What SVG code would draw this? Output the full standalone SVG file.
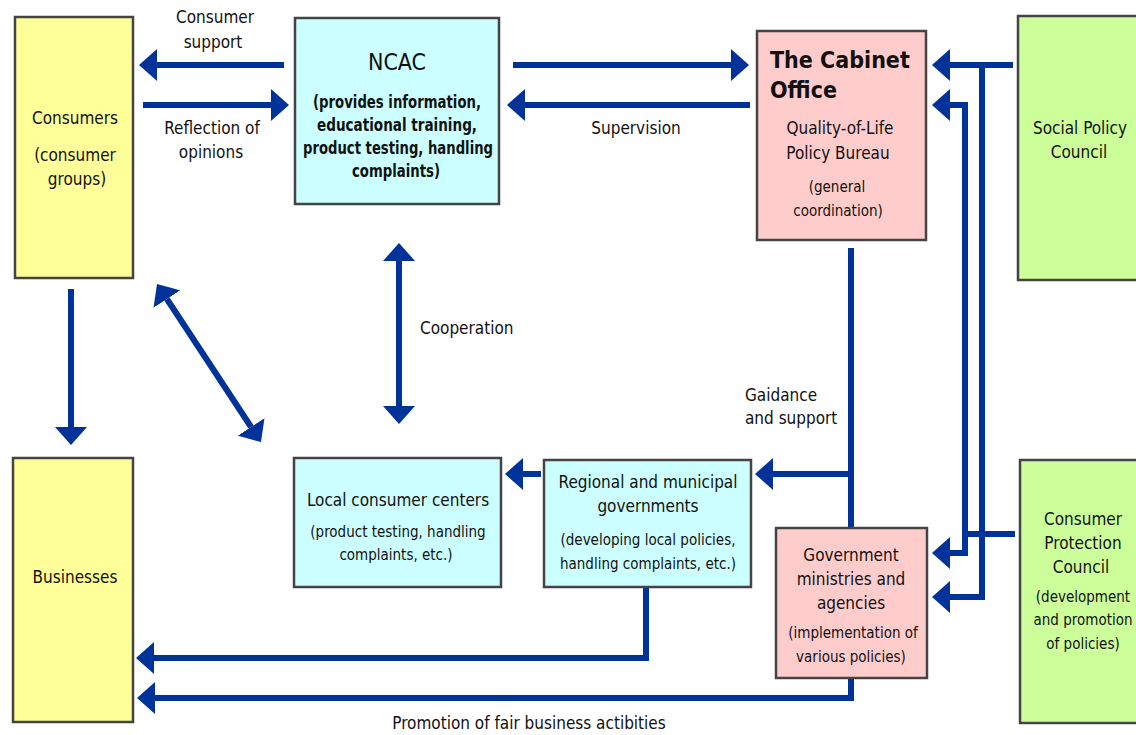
<svg xmlns="http://www.w3.org/2000/svg" width="1136" height="735" viewBox="0 0 1136 735">
<defs>
<style>
.box{stroke:#444;stroke-width:2.5}
.y{fill:#ffff99}.c{fill:#ccffff}.p{fill:#ffcccc}.g{fill:#ccff99}
.t{font-family:"Liberation Sans Narrow","DejaVu Sans Condensed","Liberation Sans",sans-serif;font-size:17px;fill:#111;text-anchor:middle}
.s{font-size:15px}
.b{font-weight:bold}
.l{text-anchor:start}
.ln{fill:none;stroke:#003399;stroke-width:6}
.a{marker-end:url(#ah)}
.aa{marker-end:url(#ah);marker-start:url(#ah)}
</style>
<marker id="ah" viewBox="0 0 18 32" markerWidth="18" markerHeight="32" refX="0" refY="16" orient="auto-start-reverse" markerUnits="userSpaceOnUse">
<path d="M0,0 L18,16 L0,32 Z" fill="#003399"/>
</marker>
</defs>
<rect width="1136" height="735" fill="#fff"/>

<g id="connectors">
<path class="ln a" d="M284,65 H157"/>
<path class="ln a" d="M143,105 H271"/>
<path class="ln a" d="M513,65 H731"/>
<path class="ln a" d="M750,105 H525"/>
<path class="ln a" d="M1013,65 H950"/>
<path class="ln a" d="M982,65 V597 H950"/>
<path class="ln aa" d="M950,105 H965 V553 H950"/>
<path class="ln" d="M1015,534 H965"/>
<path class="ln" d="M851,248 V528"/>
<path class="ln a" d="M851,474 H773"/>
<path class="ln a" d="M541,474 H523"/>
<path class="ln a" d="M646,587 V658 H154"/>
<path class="ln a" d="M851,678 V698 H155"/>
<path class="ln a" d="M71,289 V427"/>
<path class="ln aa" d="M399,261 V406"/>
<path class="ln aa" d="M166.9,299 L251.1,427"/>
<text class="t" x="215" y="23">Consumer</text>
<text class="t" x="213" y="48">support</text>
<text class="t" x="212" y="134">Reflection of</text>
<text class="t" x="211" y="158">opinions</text>
<text class="t" x="636" y="134">Supervision</text>
<text class="t l" x="420" y="334">Cooperation</text>
<text class="t l" x="745" y="401">Gaidance</text>
<text class="t l" x="745" y="424">and support</text>
<text class="t" x="529" y="729">Promotion of fair business actibities</text>
</g>

<g id="consumers">
<rect class="box y" x="15" y="17" width="118" height="261"/>
<text class="t" x="75" y="124">Consumers</text>
<text class="t" x="75" y="161">(consumer</text>
<text class="t" x="77" y="185">groups)</text>
</g>

<g id="ncac">
<rect class="box c" x="295" y="18" width="204" height="186"/>
<text class="t" x="397" y="70" style="font-size:23px">NCAC</text>
<text class="t b" x="397" y="108" textLength="168" lengthAdjust="spacingAndGlyphs">(provides information,</text>
<text class="t b" x="397" y="131" textLength="160" lengthAdjust="spacingAndGlyphs">educational training,</text>
<text class="t b" x="398" y="154" textLength="190" lengthAdjust="spacingAndGlyphs">product testing, handling</text>
<text class="t b" x="396" y="177" textLength="88" lengthAdjust="spacingAndGlyphs">complaints)</text>
</g>

<g id="cabinet">
<rect class="box p" x="757" y="31" width="169" height="209"/>
<text class="t b l" x="770" y="68" style="font-size:23px">The Cabinet</text>
<text class="t b l" x="770" y="98" style="font-size:23px">Office</text>
<text class="t" x="840" y="134">Quality-of-Life</text>
<text class="t" x="838" y="159">Policy Bureau</text>
<text class="t s" x="837" y="192">(general</text>
<text class="t s" x="838" y="216">coordination)</text>
</g>

<g id="social-policy">
<rect class="box g" x="1018" y="16" width="125" height="264"/>
<text class="t" x="1080" y="134">Social Policy</text>
<text class="t" x="1079" y="158">Council</text>
</g>

<g id="businesses">
<rect class="box y" x="13" y="458" width="120" height="264"/>
<text class="t" x="75" y="583">Businesses</text>
</g>

<g id="local-centers">
<rect class="box c" x="294" y="458" width="207" height="129"/>
<text class="t" x="398" y="506">Local consumer centers</text>
<text class="t s" x="398" y="537">(product testing, handling</text>
<text class="t s" x="396" y="560">complaints, etc.)</text>
</g>

<g id="regional">
<rect class="box c" x="544" y="460" width="207" height="127"/>
<text class="t" x="648" y="488">Regional and municipal</text>
<text class="t" x="648" y="512">governments</text>
<text class="t s" x="648" y="545">(developing local policies,</text>
<text class="t s" x="648" y="569">handling complaints, etc.)</text>
</g>

<g id="ministries">
<rect class="box p" x="776" y="528" width="151" height="150"/>
<text class="t" x="851" y="561">Government</text>
<text class="t" x="851" y="585">ministries and</text>
<text class="t" x="851" y="609">agencies</text>
<text class="t s" x="853" y="638">(implementation of</text>
<text class="t s" x="851" y="662">various policies)</text>
</g>

<g id="consumer-protection">
<rect class="box g" x="1020" y="460" width="125" height="263"/>
<text class="t" x="1083" y="525">Consumer</text>
<text class="t" x="1083" y="549">Protection</text>
<text class="t" x="1081" y="573">Council</text>
<text class="t s" x="1083" y="602">(development</text>
<text class="t s" x="1083" y="625">and promotion</text>
<text class="t s" x="1083" y="649">of policies)</text>
</g>
</svg>
